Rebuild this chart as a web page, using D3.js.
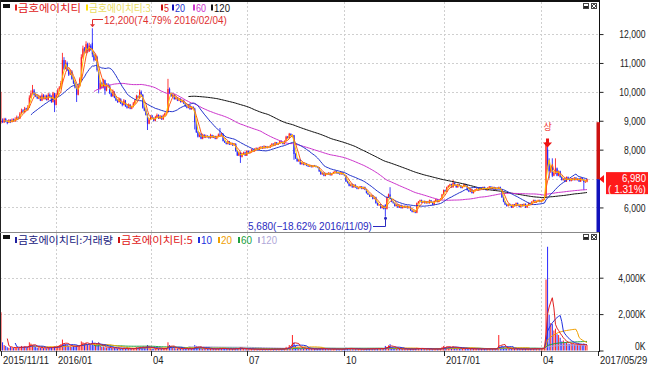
<!DOCTYPE html>
<html>
<head>
<meta charset="utf-8">
<script src="https://cdn.jsdelivr.net/npm/d3@7"></script>
<style>
body { margin: 0; background: #fff; }
svg text { font-family: "Liberation Sans", Arial, sans-serif; font-size: 10.5px; }
svg text.kr { font-family: "Noto Sans CJK KR", sans-serif; font-size: 10px; }
</style>
</head>
<body>
<svg id="chart" width="650" height="366"></svg>
<script>
// trading calendar (KRX closed days inside the range)
var startDate = "2015-11-11", endDate = "2017-05-29";
var holidays = ["2015-12-25","2015-12-31","2016-01-01","2016-02-08","2016-02-09","2016-02-10",
  "2016-03-01","2016-04-13","2016-05-05","2016-05-06","2016-06-06","2016-08-15","2016-09-14",
  "2016-09-15","2016-09-16","2016-10-03","2016-12-30","2017-01-27","2017-01-30","2017-03-01",
  "2017-05-01","2017-05-03","2017-05-05","2017-05-09"];

// daily prices (won)
var open = [
8950,9000,8950,9060,8980,8940,9020,8960,9050,8980,
9050,9130,9080,9260,9360,9300,9430,9370,9460,9800,
9950,10050,9900,9850,9770,9830,9700,9880,9750,9860,
9720,9900,9830,9650,9950,9550,9900,10050,10150,10300,
11100,10800,11000,10750,10600,10700,10450,10300,10150,9900,
10200,10450,11200,11500,11350,11650,11400,11600,11700,11300,
11100,11200,10700,10100,10300,10150,10400,10050,10250,10200,
9950,9850,10000,9800,9700,9650,9750,9600,9550,9700,
9500,9450,9550,9420,9480,9600,9700,9850,9800,10000,
9900,9450,9350,9200,8900,9050,9150,9100,9000,9120,
9200,9080,9150,9050,9180,9250,9300,10100,9950,9850,
9900,9750,9800,9700,9750,9650,9700,9600,9500,9450,
9520,9400,9480,9420,8950,8600,8450,8550,8380,8500,
8420,8480,8450,8400,8500,8420,8470,8380,8450,8520,
8480,8550,8300,8250,8200,8280,8180,8220,8150,8200,
7950,7800,7900,7750,7850,7900,7800,7950,7880,7920,
8000,7950,8020,8050,8000,8080,8100,8050,8120,8060,
8100,8080,8150,8200,8150,8250,8180,8220,8300,8250,
8200,8300,8450,8400,8550,8480,8500,7850,7700,7600,
7650,7500,7550,7480,7520,7450,7420,7460,7400,7450,
7430,7400,7380,7250,7150,7200,7100,7180,7150,7200,
7120,7180,7220,7250,7200,7180,7150,7200,7150,7100,
6900,6850,6750,6800,6700,6780,6700,6650,6680,6720,
6650,6700,6620,6500,6450,6380,6420,6300,6350,6150,
6080,6100,5980,6050,6100,5950,6350,6450,6300,6200,
6150,6050,6100,6000,6080,5980,6050,6000,6050,5980,
6020,5900,5850,5880,5820,6150,6200,6250,6180,6220,
6150,6200,6150,6250,6180,6100,6220,6280,6200,6250,
6300,6450,6600,6550,6700,6750,6800,6700,6850,6780,
6700,6800,6750,6680,6720,6800,6750,6600,6550,6620,
6500,6580,6620,6650,6600,6680,6620,6700,6650,6600,
6680,6720,6650,6700,6620,6680,6650,6700,6620,6350,
6200,6100,6050,6120,6080,6000,6100,6050,6150,6080,
6020,6100,6050,6120,6000,6080,6150,6100,6200,6250,
6180,6220,6250,6200,6230,6280,6400,8000,7500,7250,
7400,7100,7200,7350,7100,7250,7050,6950,7000,6900,
7050,6980,6920,7000,6950,7030,6950,7000,6900,7020,
6950,6880,6890];
var high = [
10000,9080,9100,9100,9020,9060,9050,9080,9080,9120,
9180,9150,9300,9420,9400,9480,9450,9540,9880,10050,
10240,10100,9980,9900,9880,9870,9950,9920,9900,9900,
9960,9950,9880,10000,9970,9960,10120,10200,10380,11350,
11200,11100,11050,10800,10780,10750,10500,10350,10200,10250,
10500,11300,11600,11550,11750,11700,11700,11650,12200,11400,
11300,11250,10750,10400,10350,10450,10420,10300,10300,10250,
10000,10080,10020,9850,9750,9800,9780,9650,9750,9720,
9550,9600,9580,9520,9650,9750,9900,9880,10080,10050,
9920,9500,9400,9250,9100,9200,9200,9120,9170,9250,
9220,9200,9180,9220,9280,9350,10450,10150,9980,9950,
9920,9850,9820,9780,9780,9720,9730,9620,9520,9560,
9550,9500,9500,9450,8980,8650,8600,8580,8550,8540,
8520,8500,8480,8550,8520,8500,8480,8480,8560,8750,
8580,8560,8320,8280,8300,8300,8250,8240,8230,8220,
7980,7930,7920,7880,7930,7930,7980,7970,7950,8030,
8020,8050,8080,8070,8100,8120,8120,8150,8130,8130,
8120,8170,8230,8220,8270,8260,8240,8320,8320,8270,
8320,8480,8470,8580,8560,8530,8510,7880,7720,7680,
7680,7580,7560,7540,7530,7470,7480,7470,7460,7470,
7450,7420,7400,7270,7220,7210,7200,7200,7220,7210,
7190,7240,7270,7270,7220,7200,7220,7220,7160,7110,
6920,6870,6820,6830,6800,6800,6720,6700,6740,6740,
6720,6720,6640,6520,6470,6440,6430,6370,6370,6170,
6120,6120,6060,6070,6100,6370,6480,6700,6320,6220,
6170,6120,6120,6100,6100,6070,6070,6070,6060,6040,
6040,5920,5900,5900,6170,6220,6270,6270,6230,6240,
6220,6220,6270,6260,6200,6240,6300,6290,6270,6320,
6470,6620,6620,6720,6770,6820,6820,6950,6870,6790,
6820,6820,6760,6740,6820,6820,6770,6620,6640,6640,
6600,6640,6670,6670,6700,6700,6720,6720,6670,6700,
6740,6740,6720,6720,6700,6700,6720,6720,6640,6370,
6220,6120,6140,6140,6100,6120,6120,6170,6170,6100,
6120,6120,6140,6140,6100,6170,6170,6220,6270,6270,
6240,6270,6270,6250,6300,6370,8250,8200,7700,7450,
7700,7250,7700,7380,7280,7270,7080,7020,7020,7070,
7070,7000,7020,7020,7050,7050,7020,7020,7040,7040,
6970,6920,7000];
var low = [
8900,8920,8920,8950,8880,8920,8920,8940,8960,8960,
9020,9050,9060,9230,9270,9280,9350,9350,9440,9780,
9920,9870,9820,9750,9750,9680,9680,9740,9730,9700,
9700,9800,9620,9630,9300,9530,9880,10020,10120,10280,
10750,10780,10720,10550,10580,10420,10270,10120,9650,9880,
10180,10420,11150,11300,11320,11350,11380,11420,11200,11050,
11080,10700,9950,10080,10120,10120,9900,10020,10150,9920,
9820,9830,9780,9680,9620,9630,9580,9500,9530,9480,
9420,9430,9400,9400,9460,9580,9680,9780,9780,9880,
9420,9330,9180,8680,8880,9030,9080,8980,8980,9100,
9060,9060,9030,9030,9160,9230,9280,9920,9830,9830,
9730,9730,9680,9680,9630,9630,9580,9480,9430,9430,
9380,9380,9400,8700,8580,8420,8430,8360,8360,8400,
8400,8420,8380,8380,8400,8400,8360,8360,8430,8460,
8460,8280,8230,8180,8180,8160,8160,8130,8130,7930,
7780,7780,7540,7730,7830,7780,7780,7860,7860,7900,
7930,7930,8000,7980,7980,8060,8030,8030,8040,8040,
8060,8060,8130,8130,8130,8160,8160,8200,8230,8180,
8180,8280,8380,8380,8460,8460,7650,7680,7580,7580,
7480,7480,7460,7460,7430,7400,7400,7380,7380,7410,
7380,7360,7230,7130,7130,7080,7080,7130,7130,7100,
7100,7160,7200,7180,7160,7130,7130,7130,7080,6880,
6830,6730,6730,6680,6680,6680,6630,6630,6660,6630,
6630,6600,6480,6430,6360,6360,6280,6280,6130,6060,
6060,5960,5960,5930,5680,5930,6330,6280,6180,6130,
6030,6030,5980,5980,5960,5960,5980,5980,5960,5960,
5880,5830,5830,5800,5800,6130,6180,6160,6160,6130,
6130,6130,6130,6160,6080,6080,6200,6180,6180,6230,
6280,6430,6530,6530,6680,6730,6680,6680,6760,6680,
6680,6730,6660,6660,6700,6730,6580,6530,6530,6480,
6480,6560,6600,6580,6580,6600,6600,6630,6580,6580,
6660,6630,6630,6600,6600,6630,6630,6600,6330,6180,
6080,6030,6030,6060,5980,5980,6030,6030,6060,6000,
6000,6030,6030,5980,5980,6060,6080,6080,6180,6160,
6160,6200,6180,6180,6210,6260,6350,7300,7000,7200,
7050,7080,7150,7080,7080,7030,6930,6930,6880,6880,
6950,6900,6900,6930,6930,6930,6930,6880,6880,6930,
6600,6860,6870];
var close = [
9000,8960,9050,8980,8920,9010,8950,9040,8990,9060,
9120,9080,9250,9350,9300,9420,9380,9450,9800,9950,
10050,9900,9850,9780,9820,9700,9880,9760,9850,9720,
9900,9820,9650,9950,9550,9900,10050,10150,10300,11100,
10800,11000,10750,10600,10700,10450,10300,10150,9900,10200,
10450,11200,11500,11350,11650,11400,11600,11450,11300,11100,
11200,10750,10100,10300,10150,10400,10050,10250,10200,9950,
9850,10000,9800,9700,9650,9750,9600,9550,9700,9500,
9450,9550,9420,9480,9600,9700,9850,9800,10000,9900,
9450,9350,9200,8900,9050,9150,9100,9000,9120,9200,
9080,9150,9050,9180,9250,9300,10100,9950,9850,9900,
9750,9800,9700,9750,9650,9700,9600,9500,9450,9520,
9400,9480,9420,8950,8600,8450,8550,8380,8500,8420,
8480,8450,8400,8500,8420,8470,8380,8450,8520,8480,
8550,8300,8250,8200,8280,8180,8220,8150,8200,7950,
7800,7900,7750,7850,7900,7800,7950,7880,7920,8000,
7950,8020,8050,8000,8080,8100,8050,8120,8060,8100,
8080,8150,8200,8150,8250,8180,8220,8300,8250,8200,
8300,8450,8400,8550,8480,8500,7850,7700,7600,7650,
7500,7550,7480,7520,7450,7420,7460,7400,7450,7430,
7400,7380,7250,7150,7200,7100,7180,7150,7200,7120,
7180,7220,7250,7200,7180,7150,7200,7150,7100,6900,
6850,6750,6800,6700,6780,6700,6650,6680,6720,6650,
6700,6620,6500,6450,6380,6420,6300,6350,6150,6080,
6100,5980,6050,5950,5950,6350,6450,6300,6200,6150,
6050,6100,6000,6080,5980,6050,6000,6050,5980,6020,
5900,5850,5880,5820,6150,6200,6250,6180,6220,6150,
6200,6150,6250,6180,6100,6220,6280,6200,6250,6300,
6450,6600,6550,6700,6750,6800,6700,6850,6780,6700,
6800,6750,6680,6720,6800,6750,6600,6550,6620,6500,
6580,6620,6650,6600,6680,6620,6700,6650,6600,6680,
6720,6650,6700,6620,6680,6650,6700,6620,6350,6200,
6100,6050,6120,6080,6000,6100,6050,6150,6080,6020,
6100,6050,6120,6000,6080,6150,6100,6200,6250,6180,
6220,6250,6200,6230,6280,6350,8250,7450,7250,7400,
7100,7200,7350,7100,7250,7050,6950,7000,6900,7050,
6980,6920,7000,6950,7030,6950,7000,6900,7020,6950,
6880,6890,6980];
// daily volume (thousand shares)
var volume = [
2100,450,300,250,180,150,200,160,140,180,
150,130,200,250,180,220,160,200,450,380,
300,220,200,150,180,140,160,130,150,120,
170,160,200,180,220,190,250,300,350,600,
400,350,300,250,220,200,250,200,280,220,
300,500,450,380,420,350,330,300,550,400,
300,280,450,250,200,220,180,160,150,170,
140,130,150,120,110,130,100,110,120,100,
90,110,100,95,120,130,180,150,200,160,
200,180,150,300,150,120,100,110,90,100,
95,110,90,100,120,130,450,300,180,150,
130,120,110,100,120,100,110,90,100,95,
110,90,100,300,250,180,150,120,110,100,
95,90,80,100,85,90,80,95,100,150,
120,100,90,85,80,90,75,80,85,150,
130,110,180,100,90,80,85,70,75,80,
70,75,65,70,60,75,65,70,60,65,
70,75,80,70,85,75,80,90,85,80,
95,200,150,300,250,850,450,250,200,180,
150,130,120,110,90,85,80,90,75,80,
85,80,120,110,90,100,85,80,75,80,
70,85,90,75,80,70,75,80,90,150,
120,110,100,90,85,80,75,80,70,75,
70,80,110,100,90,85,100,90,120,110,
100,110,95,105,250,200,280,350,180,150,
120,100,90,95,85,80,75,80,70,75,
90,85,80,90,150,120,110,100,90,85,
80,75,85,80,75,80,90,85,80,95,
200,250,180,220,200,180,150,230,160,140,
130,120,110,100,120,110,100,95,90,100,
85,90,80,85,90,80,95,85,80,90,
100,85,90,80,85,95,850,200,250,200,
130,110,100,90,85,95,80,90,85,80,
75,80,85,90,80,85,90,95,110,100,
90,100,95,110,150,250,3900,5700,1950,1500,
1450,1100,1200,900,850,700,500,550,420,450,
380,350,400,360,330,320,350,300,330,280,
380,260,300];

var baseClose = 6890;           // previous close for the change label
var upperLimit = 8950, lowerLimit = 4830;
var limitUpDays = ["2017-04-06"];
var priceTicks = [6000, 7000, 8000, 9000, 10000, 11000, 12000];
var volumeTicks = [0, 2000, 4000];
var quarterMonths = [0, 3, 6, 9];
var stockName = "금호에이치티";
var priceMAs = [{n: 3, color: "#ffc400"}, {n: 5, color: "#ff5a1a"}, {n: 20, color: "#2233cc"},
                {n: 60, color: "#cc33cc"}, {n: 120, color: "#111111"}];
var volumeMAs = [{n: 5, color: "#e02020"}, {n: 10, color: "#2030e0"}, {n: 20, color: "#f0a000"},
                 {n: 60, color: "#20a040"}, {n: 120, color: "#b0a8d8"}];
var upColor = "#ff2222", downColor = "#2828ff";

// ---------- layout
var svg = d3.select("#chart");
var left = 0, right = 599;
var pTop = 2, pBot = 232, vTop = 233, vBot = 351;

var parse = d3.timeParse("%Y-%m-%d"), key = d3.timeFormat("%Y-%m-%d");
var holidaySet = new Set(holidays);
var dates = d3.timeDay.range(parse(startDate), d3.timeDay.offset(parse(endDate), 1))
    .filter(function(d) { return d.getDay() != 0 && d.getDay() != 6 && !holidaySet.has(key(d)); });

var x = d3.scaleLinear().domain([0, dates.length - 1]).range([1, 598]);
var y = d3.scaleLinear().domain([5150, 13110]).range([pBot, pTop]);
var yv = d3.scaleLinear().domain([0, 6500]).range([350.5, 232.2]);

// narrow, bitmap-like text: scale the text horizontally to width w
// (left edge at its x, or right edge at xr when given)
function fitTo(t, w, xr) {
    var nat = t.node().getComputedTextLength();
    var x0 = xr != null ? xr - w : +t.attr("x") || 0;
    var y0 = +t.attr("y") || 0;
    t.attr("text-anchor", "start").attr("x", 0).attr("y", 0)
        .attr("transform", "translate(" + x0 + "," + y0 + ") scale(" + (w / nat) + ",1)");
    return t;
}
function squeeze(t, f, xr) {
    return fitTo(t, t.node().getComputedTextLength() * f, xr);
}

var defs = svg.append("defs");
defs.append("clipPath").attr("id", "clipP").append("rect")
    .attr("x", left).attr("y", pTop).attr("width", right - left).attr("height", pBot - pTop);
defs.append("clipPath").attr("id", "clipV").append("rect")
    .attr("x", left).attr("y", vTop).attr("width", right - left).attr("height", vBot - vTop);

// quarter ticks
var qIdx = [];
dates.forEach(function(d, i) {
    if (i > 0 && d.getMonth() != dates[i - 1].getMonth() && quarterMonths.indexOf(d.getMonth()) >= 0) qIdx.push(i);
});

// grid
var grid = svg.append("g").attr("stroke", "#cfcfcf").attr("stroke-dasharray", "2,2").attr("stroke-width", 1);
priceTicks.forEach(function(t) {
    grid.append("line").attr("x1", left).attr("x2", right).attr("y1", Math.round(y(t)) + 0.5).attr("y2", Math.round(y(t)) + 0.5);
});
volumeTicks.slice(1).forEach(function(t) {
    grid.append("line").attr("x1", left).attr("x2", right).attr("y1", Math.round(yv(t)) + 0.5).attr("y2", Math.round(yv(t)) + 0.5);
});
qIdx.forEach(function(i) {
    var xx = Math.round(x(i)) + 0.5;
    grid.append("line").attr("x1", xx).attr("x2", xx).attr("y1", pTop).attr("y2", pBot);
    grid.append("line").attr("x1", xx).attr("x2", xx).attr("y1", vTop).attr("y2", vBot);
});

// ---------- candles
var n = close.length;
var idx = d3.range(n);
var isUp = function(i) { return close[i] >= open[i]; };
var gP = svg.append("g").attr("clip-path", "url(#clipP)");
gP.selectAll(".wick").data(idx).enter().append("line")
    .attr("x1", function(i) { return x(i); }).attr("x2", function(i) { return x(i); })
    .attr("y1", function(i) { return y(high[i]); }).attr("y2", function(i) { return y(low[i]); })
    .attr("stroke", function(i) { return isUp(i) ? upColor : downColor; })
    .attr("stroke-width", 0.9);
gP.selectAll(".body").data(idx).enter().append("rect")
    .attr("x", function(i) { return x(i) - 0.6; }).attr("width", 1.2)
    .attr("y", function(i) { return y(Math.max(open[i], close[i])); })
    .attr("height", function(i) { return Math.max(0.8, Math.abs(y(open[i]) - y(close[i]))); })
    .attr("fill", function(i) { return isUp(i) ? upColor : downColor; });

function sma(arr, p) {
    return arr.map(function(v, i) { return i < p - 1 ? null : d3.mean(arr.slice(i - p + 1, i + 1)); });
}
priceMAs.slice().reverse().forEach(function(m) {
    var s = sma(close, m.n);
    var line = d3.line().defined(function(i) { return s[i] != null; })
        .x(function(i) { return x(i); }).y(function(i) { return y(s[i]); });
    gP.append("path").attr("d", line(idx)).attr("fill", "none").attr("stroke", m.color).attr("stroke-width", 1);
});

// ---------- volume
var gV = svg.append("g").attr("clip-path", "url(#clipV)");
gV.selectAll(".vol").data(idx).enter().append("line")
    .attr("x1", function(i) { return x(i); }).attr("x2", function(i) { return x(i); })
    .attr("y1", yv(0)).attr("y2", function(i) { return Math.min(yv(0) - 0.8, yv(volume[i])); })
    .attr("stroke", function(i) { return isUp(i) ? upColor : downColor; })
    .attr("stroke-width", 1);
volumeMAs.slice().reverse().forEach(function(m) {
    var s = sma(volume, m.n);
    var line = d3.line().defined(function(i) { return s[i] != null; })
        .x(function(i) { return x(i); }).y(function(i) { return yv(s[i]); });
    gV.append("path").attr("d", line(idx)).attr("fill", "none").attr("stroke", m.color).attr("stroke-width", 1);
});

// ---------- frames
svg.append("rect").attr("x", 0).attr("y", 0).attr("width", right).attr("height", 2).attr("fill", "#111");
svg.append("line").attr("x1", 0.5).attr("x2", 0.5).attr("y1", 0).attr("y2", vBot).attr("stroke", "#222");
svg.append("line").attr("x1", 0).attr("x2", right).attr("y1", pBot + 0.5).attr("y2", pBot + 0.5).attr("stroke", "#888");
svg.append("line").attr("x1", 0).attr("x2", right).attr("y1", vBot + 0.5).attr("y2", vBot + 0.5).attr("stroke", "#888");

// ---------- right axes
var last = close[n - 1];
var yl = y(last);
var axP = svg.append("g").attr("transform", "translate(" + (right + 0.5) + ",0)")
    .call(d3.axisRight(y).tickValues(priceTicks).tickSize(4).tickSizeOuter(0).tickFormat(d3.format(",")));
var axV = svg.append("g").attr("transform", "translate(" + (right + 0.5) + ",0)")
    .call(d3.axisRight(yv).tickValues(volumeTicks).tickSize(4).tickSizeOuter(0)
        .tickFormat(function(d) { return d3.format(",")(d) + "K"; }));
// the current-price box hides the label it covers
axP.selectAll(".tick").filter(function(d) { return Math.abs(y(d) - yl) < 12; }).select("text").remove();
[axP, axV].forEach(function(ax) {
    ax.select(".domain").remove();
    ax.selectAll("line").attr("stroke", "#222");
    ax.selectAll("text").attr("dy", "0.35em").attr("fill", "#222")
        .style("font-size", "11px").style("font-family", null)
        .each(function(d) {
            var t = d3.select(this);
            if (d == 0 && ax === axV) t.attr("dy", "-0.05em");   // zero label stays inside the panel
            squeeze(t, 0.78, 46);
        });
});
svg.append("line").attr("x1", right + 0.5).attr("x2", right + 0.5).attr("y1", 0).attr("y2", vBot + 1).attr("stroke", "#111");

// limit range bar and current price
svg.append("rect").attr("x", 596.5).attr("width", 3.5).attr("y", y(upperLimit)).attr("height", yl - y(upperLimit)).attr("fill", "#cc1111");
svg.append("rect").attr("x", 596.5).attr("width", 3.5).attr("y", yl).attr("height", y(Math.max(lowerLimit, y.domain()[0])) - yl).attr("fill", "#1111bb");
svg.append("path").attr("d", "M" + 599 + "," + yl + "L" + 604 + "," + (yl - 4) + "L" + 604 + "," + (yl + 4) + "Z").attr("fill", "#ff1111");
svg.append("rect").attr("x", 606).attr("y", yl - 7).attr("width", 42).attr("height", 22).attr("fill", "#ff1a1a");
fitTo(svg.append("text").attr("y", yl + 3).attr("fill", "#fff").text(d3.format(",")(last)), 24, 646);
fitTo(svg.append("text").attr("y", yl + 13.5).attr("fill", "#fff")
    .text("( " + d3.format(".2f")((last / baseClose - 1) * 100) + "%)"), 38, 646);

// ---------- x axis
var xTicks = [0].concat(qIdx).concat([dates.length - 1]);
var fmtFull = d3.timeFormat("%Y/%m/%d"), fmtYM = d3.timeFormat("%Y/%m"), fmtM = d3.timeFormat("%m");
xTicks.forEach(function(i, k) {
    var xx = Math.round(x(i)) + 0.5;
    svg.append("line").attr("x1", xx).attr("x2", xx).attr("y1", vBot).attr("y2", vBot + 5).attr("stroke", "#222");
    var d = dates[i];
    var lab = (k == 0 || k == xTicks.length - 1) ? fmtFull(d) : (d.getMonth() == 0 ? fmtYM(d) : fmtM(d));
    var t = svg.append("text").attr("x", xx + 1.5).attr("y", 364).attr("fill", "#222")
        .style("font-size", "11px").text(lab);
    squeeze(t, 0.86);
});

// ---------- high / low annotations
var iMax = d3.maxIndex(high), iMin = d3.minIndex(low);
var pct = function(v) { return d3.format(".2f")((v / last - 1) * 100); };
var dfmt = d3.timeFormat("%Y/%m/%d");
var xm = Math.round(x(iMax)) + 0.5;
svg.append("path").attr("d", "M103," + 19.5 + "H" + xm + "V" + (y(high[iMax]) - 2))
    .attr("fill", "none").attr("stroke", "#e03030");
svg.append("path").attr("d", "M" + (xm - 2.5) + "," + (y(high[iMax]) - 4) + "h5l-2.5,3z").attr("fill", "#e03030");
fitTo(svg.append("text").attr("x", 104).attr("y", 23.5).attr("fill", "#e03030").style("font-size", "10.5px")
    .text(d3.format(",")(high[iMax]) + "(" + pct(high[iMax]) + "% " + dfmt(dates[iMax]) + ")"), 123);
var xn = Math.round(x(iMin)) + 0.5;
svg.append("path").attr("d", "M373,226.5H" + xn + "V" + (y(low[iMin]) + 1))
    .attr("fill", "none").attr("stroke", "#2a2ac0");
svg.append("circle").attr("cx", xn).attr("cy", y(low[iMin]) + 1.5).attr("r", 1.5).attr("fill", "#2a2ac0");
fitTo(svg.append("text").attr("y", 229.5).attr("fill", "#2a2ac0").style("font-size", "10.5px")
    .text(d3.format(",")(low[iMin]) + "(" + pct(low[iMin]) + "% " + dfmt(dates[iMin]) + ")"), 124, 372);

// upper-limit marker
limitUpDays.forEach(function(ds) {
    var i = dates.map(key).indexOf(ds);
    var xx = x(i) + 1.5, yh = y(high[i]);
    svg.append("text").attr("class", "kr").attr("x", xx).attr("y", yh - 12).attr("text-anchor", "middle")
        .attr("fill", "#ee2222").style("font-size", "9px").text("상");
    svg.append("path").attr("d", "M" + (xx - 1.5) + "," + (yh - 4) + "h3v4h3l-4.5,5l-4.5,-5h3z").attr("fill", "#ee1111");
});

// ---------- legends (marker x positions follow the original layout)
function legend(items, yb) {
    items.forEach(function(it) {
        svg.append("rect").attr("x", it.x).attr("y", yb - 7).attr("width", 2).attr("height", 6).attr("fill", it.color);
        var t = svg.append("text").attr("x", it.x + 3).attr("y", yb).attr("fill", it.text || it.color)
            .attr("class", it.kr ? "kr" : null).style("font-size", it.kr ? "10px" : "10.5px").text(it.label);
        fitTo(t, it.w);
    });
}
svg.append("rect").attr("x", 3).attr("y", 4).attr("width", 7).attr("height", 4).attr("fill", "#111");
legend([{x: 15, w: 63, label: stockName, color: "#e02020", kr: true},
        {x: 86, w: 62, label: stockName + ":" + priceMAs[0].n, color: "#ffe000", text: "#e8dc60", kr: true},
        {x: 161, w: 5, label: String(priceMAs[1].n), color: "#cc1111", text: "#e02020"},
        {x: 172, w: 10, label: String(priceMAs[2].n), color: "#1111bb", text: "#2233cc"},
        {x: 193, w: 10, label: String(priceMAs[3].n), color: "#cc33cc"},
        {x: 211, w: 16, label: String(priceMAs[4].n), color: "#111"}], 11.5);
svg.append("rect").attr("x", 3).attr("y", 235).attr("width", 7).attr("height", 4).attr("fill", "#111");
legend([{x: 15, w: 95, label: stockName + ":거래량", color: "#2020a0", text: "#202080", kr: true},
        {x: 118, w: 72, label: stockName + ":" + volumeMAs[0].n, color: "#cc1111", text: "#e02020", kr: true},
        {x: 198, w: 11, label: String(volumeMAs[1].n), color: "#2030e0"},
        {x: 218, w: 11, label: String(volumeMAs[2].n), color: "#f0a000"},
        {x: 238, w: 11, label: String(volumeMAs[3].n), color: "#20a040"},
        {x: 258, w: 16, label: String(volumeMAs[4].n), color: "#b0a8d8"}], 244);

// panel buttons
[3, 234].forEach(function(yy) {
    svg.append("rect").attr("x", 583).attr("y", yy).attr("width", 6).attr("height", 6).attr("fill", "#444");
    svg.append("rect").attr("x", 584).attr("y", yy + 1).attr("width", 4).attr("height", 4).attr("fill", "#fff");
    svg.append("rect").attr("x", 584).attr("y", yy + 3).attr("width", 4).attr("height", 2).attr("fill", "#222");
    svg.append("rect").attr("x", 591).attr("y", yy).attr("width", 6).attr("height", 6).attr("fill", "#444");
    svg.append("path").attr("d", "M592," + (yy + 1) + "l4,4M596," + (yy + 1) + "l-4,4").attr("stroke", "#fff").attr("stroke-width", 1);
});
</script>
</body>
</html>
